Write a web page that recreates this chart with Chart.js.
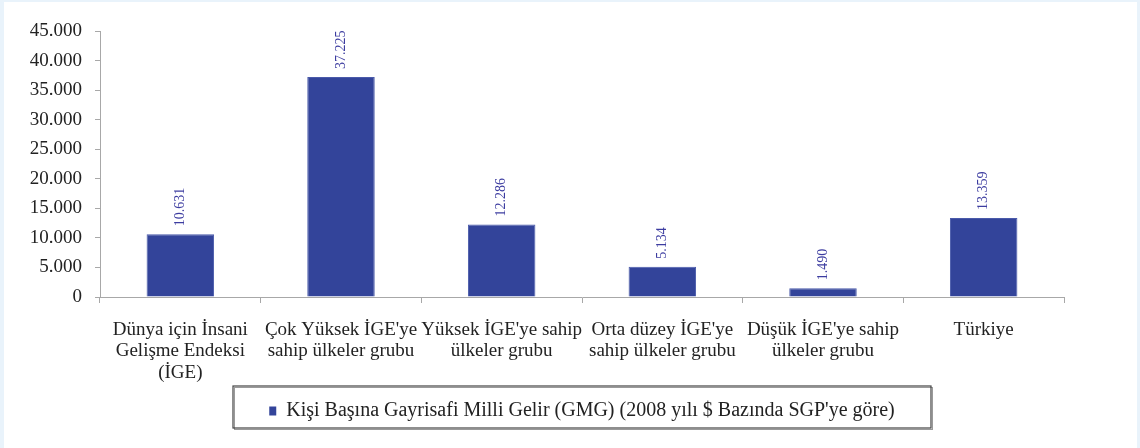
<!DOCTYPE html>
<html>
<head>
<meta charset="utf-8">
<script src="https://cdn.jsdelivr.net/npm/chart.js@4.4.1/dist/chart.umd.min.js"></script>
<style>
  html, body { margin: 0; padding: 0; background: #e9f3fb; }
  #wrap { position: absolute; left: 0; top: 0; width: 1140px; height: 448px; }
</style>
</head>
<body>
<div id="wrap"><canvas id="c" width="1140" height="448"></canvas></div>
<script>
const categories = [
  ["Dünya için İnsani", "Gelişme Endeksi", "(İGE)"],
  ["Çok Yüksek İGE'ye", "sahip ülkeler grubu"],
  ["Yüksek İGE'ye sahip", "ülkeler grubu"],
  ["Orta düzey İGE'ye", "sahip ülkeler grubu"],
  ["Düşük İGE'ye sahip", "ülkeler grubu"],
  ["Türkiye"]
];
const seriesName = "Kişi Başına Gayrisafi Milli Gelir (GMG) (2008 yılı $ Bazında SGP'ye göre)";
const values = [10631, 37225, 12286, 5134, 1490, 13359];
const yMin = 0, yMax = 45000, yStep = 5000;

const FONT = '"Liberation Serif", "Times New Roman", serif';
function fmt(v) { return String(v).replace(/\B(?=(\d{3})+(?!\d))/g, '.'); }

const bgPlugin = {
  id: 'bg',
  beforeDraw(chart) {
    const ctx = chart.ctx;
    ctx.save();
    ctx.fillStyle = '#e9f3fb';
    ctx.fillRect(0, 0, chart.width, chart.height);
    ctx.fillStyle = '#ffffff';
    ctx.fillRect(4, 2, chart.width - 7, chart.height - 2);
    ctx.restore();
  }
};

const labelPlugin = {
  id: 'vlabels',
  afterDatasetsDraw(chart) {
    const ctx = chart.ctx;
    const meta = chart.getDatasetMeta(0);
    ctx.save();
    ctx.font = '14px ' + FONT;
    ctx.fillStyle = '#3c3ca0';
    ctx.textAlign = 'left';
    ctx.textBaseline = 'middle';
    meta.data.forEach((bar, i) => {
      ctx.save();
      ctx.translate(bar.x, bar.y - 8);
      ctx.rotate(-Math.PI / 2);
      ctx.fillText(fmt(chart.data.datasets[0].data[i]), 0, 0);
      ctx.restore();
    });
    ctx.restore();
  }
};

const legendBoxPlugin = {
  id: 'legendBox',
  afterDraw(chart) {
    const lg = chart.legend;
    if (!lg) return;
    const ctx = chart.ctx;
    const cx = (chart.chartArea.left + chart.chartArea.right) / 2;
    ctx.save();
    ctx.strokeStyle = '#9a9a9a';
    ctx.lineWidth = 1;
    ctx.strokeRect(cx - 349 + 1.5, 386 + 1.5, 698, 42);
    ctx.strokeStyle = '#444';
    ctx.lineWidth = 1.2;
    ctx.strokeRect(cx - 349, 386, 698, 42);
    ctx.restore();
  }
};

new Chart(document.getElementById('c'), {
  type: 'bar',
  data: {
    labels: categories,
    datasets: [{
      label: seriesName,
      data: values,
      backgroundColor: '#33449a',
      borderColor: '#4a5aaa',
      borderWidth: 1,
      categoryPercentage: 1,
      barPercentage: 0.42
    }]
  },
  options: {
    responsive: false,
    animation: false,
    devicePixelRatio: 1,
    layout: { padding: { left: 0, right: 76, top: 31, bottom: 17 } },
    plugins: {
      tooltip: { enabled: false },
      legend: {
        position: 'bottom',
        fullSize: false,
        labels: {
          font: { family: FONT, size: 20 },
          color: '#222',
          boxWidth: 7,
          boxHeight: 9,
          padding: 12,
          generateLabels(chart) {
            return [{ text: seriesName, fillStyle: '#33449a', strokeStyle: '#33449a', lineWidth: 0, datasetIndex: 0, fontColor: '#222' }];
          }
        }
      }
    },
    scales: {
      x: {
        grid: { drawOnChartArea: false, tickLength: 6, color: '#a8a8a8', offset: true },
        border: { color: '#a8a8a8' },
        ticks: {
          font: { family: FONT, size: 19, lineHeight: 1.13 },
          color: '#222',
          padding: 16,
          maxRotation: 0,
          autoSkip: false
        },
        afterFit(scale) { scale.height = 92; }
      },
      y: {
        min: yMin, max: yMax,
        grid: { drawOnChartArea: false, tickLength: 5, color: '#a8a8a8' },
        border: { color: '#a8a8a8' },
        ticks: {
          stepSize: yStep,
          font: { family: FONT, size: 19 },
          color: '#222',
          padding: 13,
          callback: (v) => fmt(v)
        },
        afterFit(scale) { scale.width = 100; }
      }
    }
  },
  plugins: [bgPlugin, labelPlugin, legendBoxPlugin]
});
</script>
</body>
</html>
